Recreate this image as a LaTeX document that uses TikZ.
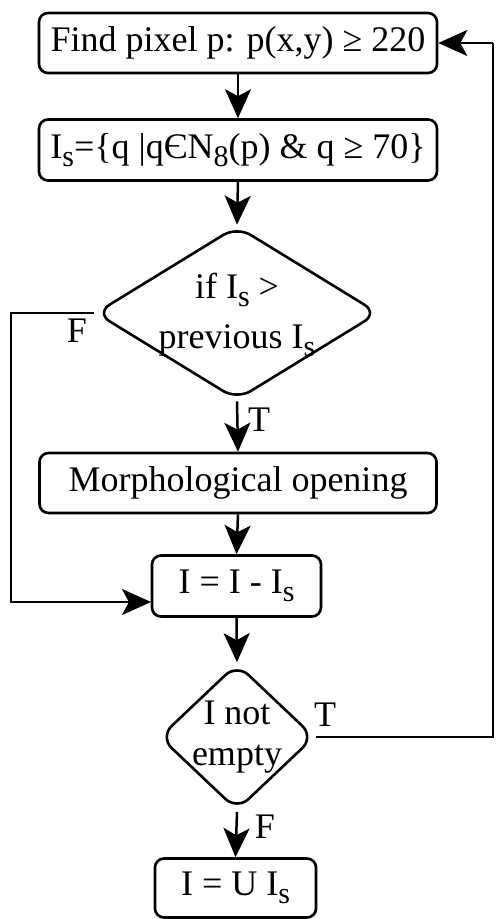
\documentclass[tikz,border=0pt]{standalone}
\usepackage{fontspec}
\setmainfont{Liberation Serif}
\usetikzlibrary{shapes.geometric,arrows.meta}
\newcommand\mysub[1]{\raisebox{-8pt}{\fontsize{30}{30}\selectfont #1}}
\begin{document}
\begin{tikzpicture}[x=1pt,y=1pt,
  font=\fontsize{36}{44}\selectfont,
  box/.style={draw, line width=2.6pt, rounded corners=9pt, inner sep=0pt, align=center},
  dec/.style={draw, diamond, line width=2.6pt, rounded corners=16pt, inner sep=0pt, align=center},
  conn/.style={line width=2.5pt, -{Stealth[length=29pt,width=26pt,inset=7pt]}},
  loopline/.style={line width=2pt}]
\useasboundingbox (0,0) rectangle (498,-919);
\node[box, minimum width=398pt, minimum height=60pt] (b1) at (238,-43) {Find pixel p: p(x,y) ≥ 220};
\node[box, minimum width=398pt, minimum height=61pt] (b2) at (238,-150) {I\mysub{s}=\{q |qЄN\mysub{8}(p) \& q ≥ 70\}};
\node[dec, minimum width=283pt, minimum height=174pt] (d1) at (237,-313) {};
\node (d1t) at (237,-313) {\fontsize{36}{50}\selectfont\begin{tabular}{@{}c@{}}if I\mysub{s} >\\previous I\mysub{s}\end{tabular}};
\node[box, minimum width=397pt, minimum height=60pt] (b3) at (238,-483) {Morphological opening};
\node[box, minimum width=169pt, minimum height=61pt] (b4) at (236.5,-586) {I = I - I\mysub{s}};
\node[dec, minimum width=155pt, minimum height=147pt] (d2) at (237,-737) {};
\node (d2t) at (237,-737) {\fontsize{36}{41}\selectfont\begin{tabular}{@{}c@{}}I not\\empty\end{tabular}};
\node[box, minimum width=161pt, minimum height=59pt] (b5) at (235.5,-888) {I = U I\mysub{s}};
\coordinate (lt) at (11,-313);
\coordinate (lb) at (11,-602);
\coordinate (b4in) at (151,-602);
\coordinate (rb) at (493,-737);
\coordinate (rt) at (493,-43);
\draw[conn] (b1.south) -- (b2.north);
\draw[conn] (b2.south) -- (d1.north);
\draw[conn] (d1.south) -- (b3.north);
\draw[conn] (b3.south) -- (b4.north);
\draw[conn] (b4.south) -- (d2.north);
\draw[conn] (d2.south) -- (b5.north);
\draw[conn] (d1.west) -- (lt) -- (lb) -- (b4in);
\draw[loopline] (d2.east) -- (rb) -- (rt);
\draw[conn] (rt) -- (b1.east);
\node (lF1) at (77,-331) {F};
\node (lT1) at (259,-420) {T};
\node (lT2) at (325,-715) {T};
\node (lF2) at (265,-827) {F};
\end{tikzpicture}
\end{document}
